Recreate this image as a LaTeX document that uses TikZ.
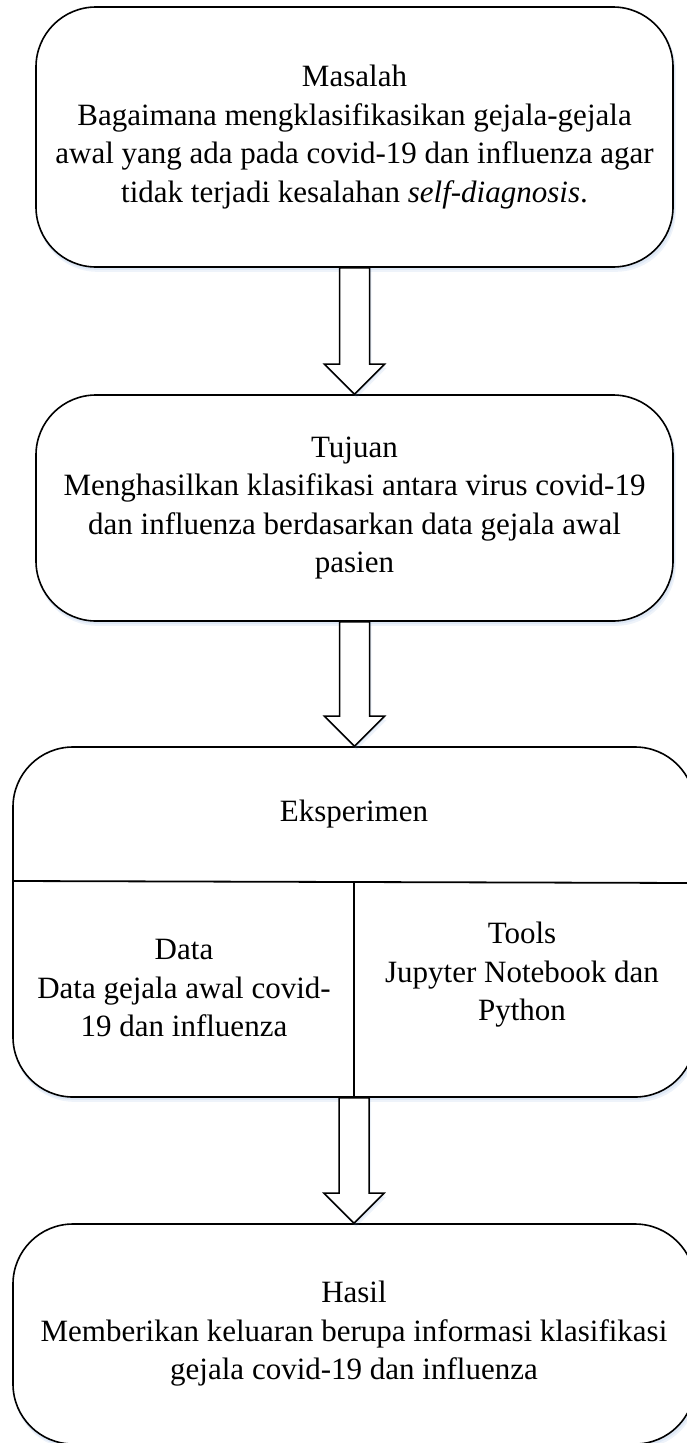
\documentclass[tikz,border=0pt]{standalone}
\usepackage{fontspec}
\setmainfont{Liberation Serif}
\usetikzlibrary{calc,backgrounds}

\definecolor{glow}{RGB}{120,160,215}

\tikzset{
  stagebox/.style={draw, line width=1.6pt, rounded corners=60pt, fill=white,
    inner sep=0pt, align=center, font=\fontsize{31}{38.5}\selectfont},
  cell/.style={inner sep=0pt, align=center, font=\fontsize{31}{38.5}\selectfont},
  flowarrow/.style={draw, line width=1.5pt, fill=white, line join=miter},
  softshadow/.style={fill=glow, fill opacity=0.13, draw=none},
  divider/.style={line width=1.8pt}
}

% soft bluish shadow beneath a stage box
\newcommand\boxshadow[1]{%
  \begin{pgfonlayer}{background}
    \foreach \s in {2,4}
      \fill[softshadow, rounded corners=60pt]
        ($(#1.south west)+(0.5*\s,\s)$) rectangle ($(#1.north east)+(0.5*\s,\s)$);
  \end{pgfonlayer}}

% hollow block arrow from the bottom of one box to the top of the next
\newcommand\blockflow[2]{%
  \foreach \s in {4,2}
    \fill[softshadow] let \p1=(#1.south), \p2=(#2.north) in
      (\x1-15pt+0.5*\s pt,\y1) -- (\x1-15pt+0.5*\s pt,\y2+30pt-\s pt) --
      (\x1-30pt+0.5*\s pt,\y2+30pt-\s pt) -- (\x1+0.5*\s pt,\y2-\s pt) --
      (\x1+30pt+0.5*\s pt,\y2+30pt-\s pt) -- (\x1+15pt+0.5*\s pt,\y2+30pt-\s pt) --
      (\x1+15pt+0.5*\s pt,\y1) -- cycle;
  \draw[flowarrow] let \p1=(#1.south), \p2=(#2.north) in
    (\x1-15pt,\y1) -- (\x1-15pt,\y2+30pt) -- (\x1-30pt,\y2+30pt) --
    (\x1,\y2) -- (\x1+30pt,\y2+30pt) -- (\x1+15pt,\y2+30pt) --
    (\x1+15pt,\y1) -- cycle;}

\begin{document}
\begin{tikzpicture}[x=1pt,y=-1pt]
\useasboundingbox (0,0) rectangle (687,1443);

% stage boxes
\node[stagebox, minimum width=637pt, minimum height=260pt] (masalah) at (354.5,137)
  {Masalah\\Bagaimana mengklasifikasikan gejala-gejala\\awal yang ada pada covid-19 dan influenza agar\\tidak terjadi kesalahan \textit{self-diagnosis}.};

\node[stagebox, minimum width=637pt, minimum height=226pt] (tujuan) at (354.5,508)
  {Tujuan\\Menghasilkan klasifikasi antara virus covid-19\\dan influenza berdasarkan data gejala awal\\pasien};

\node[stagebox, minimum width=682pt, minimum height=350pt] (eksperimen) at (354,922) {};

\node[stagebox, minimum width=682pt, minimum height=220pt] (hasil) at (354,1334)
  {Hasil\\Memberikan keluaran berupa informasi klasifikasi\\gejala covid-19 dan influenza};

\boxshadow{masalah}
\boxshadow{tujuan}
\boxshadow{eksperimen}
\boxshadow{hasil}

% inner split of the experiment box
\coordinate (splitL) at (13,881);
\coordinate (splitR) at (695,883);
\coordinate (splitM) at (354,882);
\draw[divider] (splitL) -- (splitR);
\draw[divider] (splitM) -- (splitM |- eksperimen.south);

\node[cell] (eks) at (354,814) {Eksperimen};
\node[cell] (data) at (184,988) {Data\\Data gejala awal covid-\\19 dan influenza};
\node[cell] (tools) at (522,975) {Tools\\Jupyter Notebook dan\\Python};

% connectors
\blockflow{masalah}{tujuan}
\blockflow{tujuan}{eksperimen}
\blockflow{eksperimen}{hasil}
\end{tikzpicture}
\end{document}
